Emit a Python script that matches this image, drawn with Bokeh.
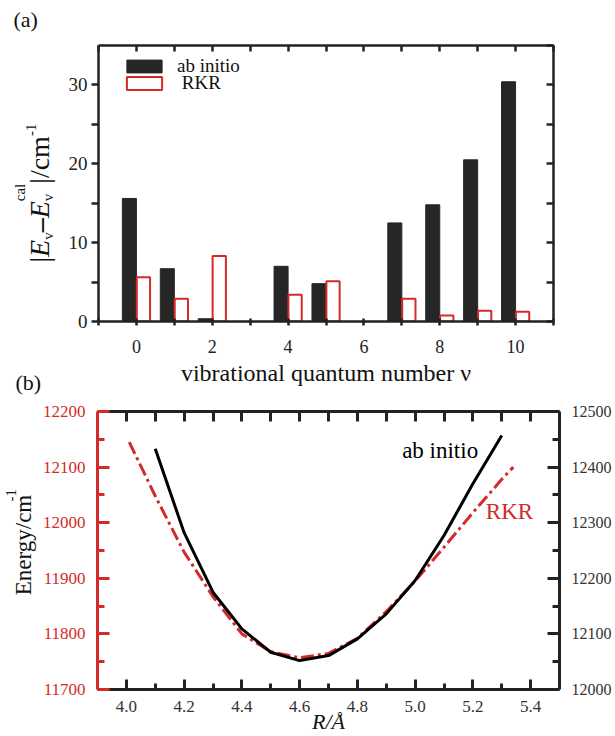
import math
from bokeh.plotting import figure
from bokeh.models import (Range1d, LinearAxis, FixedTicker, Label, Legend, LegendItem,
                          PrintfTickFormatter)
from bokeh.layouts import column, row
from bokeh.embed import file_html
from bokeh.resources import INLINE

FONT = "Liberation Serif"
RED = "#d42a2a"
DARK = "#222222"

# ---------------- data (a) ----------------
v_levels = [0, 1, 2, 4, 5, 7, 8, 9, 10]
dev_ab_initio = [15.6, 6.7, 0.35, 7.0, 4.8, 12.5, 14.8, 20.5, 30.4]
dev_rkr = [5.6, 2.9, 8.3, 3.4, 5.1, 2.9, 0.75, 1.35, 1.25]
x_ticks_a = [0, 2, 4, 6, 8, 10]
x_minor_a = [-1, 1, 3, 5, 7, 9, 11]
y_ticks_a = [0, 10, 20, 30]
y_minor_a = [5, 15, 25]

# ---------------- data (b) ----------------
R_ab_initio = [4.1, 4.2, 4.3, 4.4, 4.5, 4.6, 4.7, 4.8, 4.9, 5.0, 5.1, 5.2, 5.3]
E_ab_initio = [12433, 12282, 12175, 12109, 12067, 12052, 12061, 12091, 12136, 12196, 12277, 12370, 12457]
R_rkr = [4.01, 4.1, 4.2, 4.3, 4.4, 4.5, 4.6, 4.7, 4.8, 4.9, 5.0, 5.1, 5.2, 5.3, 5.34]
E_rkr = [12145, 12048, 11947, 11867, 11800, 11768, 11757, 11765, 11792, 11840, 11895, 11956, 12018, 12078, 12100]
x_ticks_b = [4.0, 4.2, 4.4, 4.6, 4.8, 5.0, 5.2, 5.4]
x_minor_b = [4.1, 4.3, 4.5, 4.7, 4.9, 5.1, 5.3]
x_top_b = [4.0, 4.1, 4.2, 4.3, 4.4, 4.5, 4.6, 4.7, 4.8, 4.9, 5.0, 5.1, 5.2, 5.3, 5.4]
y_left_ticks = [11700, 11800, 11900, 12000, 12100, 12200]
y_left_minor = [11750, 11850, 11950, 12050, 12150]
y_right_ticks = [12000, 12100, 12200, 12300, 12400, 12500]
y_right_minor = [12050, 12150, 12250, 12350, 12450]

HALF_PI = math.pi / 2
MID = 0.3375  # distance (em) from baseline to the middle of the text box


def style_axis(ax, color=DARK, width=2.5, size="18px"):
    ax.axis_line_color = color
    ax.axis_line_width = width
    ax.major_tick_line_color = color
    ax.minor_tick_line_color = color
    ax.major_tick_line_width = width
    ax.minor_tick_line_width = width
    ax.major_label_text_font = FONT
    ax.major_label_text_font_size = size
    ax.major_label_text_color = color


def strip(w, h, y0):
    """Text-only strip whose frame is the whole canvas; data units = page pixels."""
    s = figure(width=w, height=h, x_range=Range1d(0, w), y_range=Range1d(y0 + h, y0),
               output_backend="svg", toolbar_location=None, min_border=0,
               x_axis_location=None, y_axis_location=None, frame_align=False)
    s.outline_line_color = None
    s.background_fill_color = "white"
    s.border_fill_color = "white"
    for g in s.grid:
        g.visible = False
    return s


def htxt(p, text, x_left, y_base, size, style="normal", color="#111111"):
    p.add_layout(Label(x=x_left, y=y_base - MID * size, text=text, text_font=FONT,
                       text_font_size=f"{size}px", text_font_style=style, text_color=color,
                       text_align="left", text_baseline="middle"))


def vtxt(p, text, x_base, y_start, size, width_em, style="normal", color="#111111"):
    """Text rotated 90deg (reading upward); baseline at x_base, starting at y_start."""
    p.add_layout(Label(x=x_base - MID * size, y=y_start - width_em * size / 2, text=text,
                       angle=HALF_PI, text_font=FONT, text_font_size=f"{size}px",
                       text_font_style=style, text_color=color,
                       text_align="center", text_baseline="middle"))


# ================= panel (a) =================
H1 = 395
S1 = strip(62, H1, 0)
p1 = figure(width=553, height=H1, x_range=Range1d(-1, 11), y_range=Range1d(0, 35),
            output_backend="svg", toolbar_location=None, frame_align=False,
            min_border_left=36, min_border_right=62, min_border_top=45, min_border_bottom=74)
p1.outline_line_color = None
p1.grid.visible = False

bx = p1.xaxis[0]
bx.ticker = FixedTicker(ticks=x_ticks_a, minor_ticks=x_minor_a)
style_axis(bx, size="18px")
bx.major_tick_in = 3
bx.major_tick_out = 4
bx.minor_tick_in = 3
bx.minor_tick_out = 4
bx.major_label_standoff = 14
bx.axis_label = "vibrational quantum number \u03bd"
bx.axis_label_text_font = FONT
bx.axis_label_text_font_size = "24px"
bx.axis_label_text_font_style = "normal"
bx.axis_label_text_color = "#111111"
bx.axis_label_standoff = 4

ly = p1.yaxis[0]
ly.ticker = FixedTicker(ticks=y_ticks_a, minor_ticks=y_minor_a)
style_axis(ly, size="19px")
ly.major_tick_in = 0
ly.major_tick_out = 7
ly.minor_tick_in = 0
ly.minor_tick_out = 7
ly.major_label_standoff = 4

tx = LinearAxis(ticker=FixedTicker(ticks=[], minor_ticks=list(range(-1, 12))))
style_axis(tx)
tx.minor_tick_in = 6
tx.minor_tick_out = 0
tx.major_label_standoff = 0
p1.add_layout(tx, "above")

ry = LinearAxis(ticker=FixedTicker(ticks=[], minor_ticks=[0, 5, 10, 15, 20, 25, 30, 35]))
style_axis(ry)
ry.minor_tick_in = 7
ry.minor_tick_out = 0
ry.major_label_standoff = 0
p1.add_layout(ry, "right")

xs_ab = [v - 0.185 for v in v_levels]
xs_rkr = [v + 0.185 for v in v_levels]
r_ab = p1.vbar(x=xs_ab, top=dev_ab_initio, bottom=0, width=0.37,
               fill_color="#262626", line_color="#262626", line_width=1)
r_rk = p1.vbar(x=xs_rkr, top=dev_rkr, bottom=0, width=0.35,
               fill_color="white", line_color=RED, line_width=2)

legend_style = dict(glyph_width=44, glyph_height=16, label_standoff=11, spacing=0, padding=0,
                    margin=0, border_line_color=None, background_fill_alpha=0,
                    label_text_font=FONT, label_text_font_size="19px", label_text_color="#111111")
p1.add_layout(Legend(items=[LegendItem(label="ab initio", renderers=[r_ab])],
                     location=(24, 244), **legend_style))
p1.add_layout(Legend(items=[LegendItem(label=" RKR", renderers=[r_rk])],
                     location=(24, 227), **legend_style))

# labels in the left strip of (a)
htxt(S1, "(a)", 13, 26, 22)
htxt(S1, "(b)", 15, 389, 22)
BX = 48
vtxt(S1, "|", BX, 262, 28, 0.2)
vtxt(S1, "E", BX, 256.4, 28, 0.611, style="italic")
vtxt(S1, "v", BX + 5, 239.3, 15, 0.5)
vtxt(S1, "\u2013", BX, 231.8, 28, 0.5, style="bold")
vtxt(S1, "E", BX, 217.8, 28, 0.611, style="italic")
vtxt(S1, "v", BX + 5, 200.7, 15, 0.5)
vtxt(S1, "cal", BX - 23, 200.7, 15, 1.166)
vtxt(S1, "|/cm", BX, 183.2, 28, 1.7)
vtxt(S1, "-1", BX - 12, 135.6, 15, 0.833)

# ================= panel (b) =================
H2 = 736 - H1
S2 = strip(38, H2, H1)
p2 = figure(width=577, height=H2, x_range=Range1d(3.9, 5.5), y_range=Range1d(11700, 12200),
            output_backend="svg", toolbar_location=None, frame_align=False,
            min_border_left=59, min_border_right=56, min_border_top=16, min_border_bottom=47)
p2.extra_y_ranges = {"right": Range1d(12000, 12500)}
p2.outline_line_color = None
p2.grid.visible = False

bx2 = p2.xaxis[0]
bx2.ticker = FixedTicker(ticks=x_ticks_b, minor_ticks=x_minor_b)
bx2.formatter = PrintfTickFormatter(format="%.1f")
style_axis(bx2, color=DARK, width=3, size="17px")
bx2.major_label_text_color = "#333333"
bx2.major_tick_in = 10
bx2.major_tick_out = 0
bx2.minor_tick_in = 6
bx2.minor_tick_out = 0
bx2.major_label_standoff = 11
bx2.axis_label = "R/\u00c5"
bx2.axis_label_text_font = FONT
bx2.axis_label_text_font_size = "22px"
bx2.axis_label_text_font_style = "italic"
bx2.axis_label_text_color = "#111111"
bx2.axis_label_standoff = -6

ly2 = p2.yaxis[0]
ly2.ticker = FixedTicker(ticks=y_left_ticks, minor_ticks=y_left_minor)
style_axis(ly2, color=RED, width=3, size="17px")
ly2.major_tick_in = 12
ly2.major_tick_out = 0
ly2.minor_tick_in = 7
ly2.minor_tick_out = 0
ly2.major_label_standoff = 12

tx2 = LinearAxis(ticker=FixedTicker(ticks=[], minor_ticks=x_top_b))
style_axis(tx2, width=3)
tx2.minor_tick_in = 10
tx2.minor_tick_out = 0
tx2.major_label_standoff = 0
p2.add_layout(tx2, "above")

ry2 = LinearAxis(y_range_name="right", ticker=FixedTicker(ticks=y_right_ticks, minor_ticks=y_right_minor))
style_axis(ry2, width=3, size="16px")
ry2.major_label_text_color = "#333333"
ry2.major_tick_in = 12
ry2.major_tick_out = 0
ry2.minor_tick_in = 7
ry2.minor_tick_out = 0
ry2.major_label_standoff = 12
p2.add_layout(ry2, "right")

p2.line(R_rkr, E_rkr, line_color=RED, line_width=3, line_dash="13 4 3 4")
p2.line(R_ab_initio, E_ab_initio, y_range_name="right", line_color="#000000", line_width=3)

p2.add_layout(Label(x=4.955, y=12129, text="ab initio", text_font=FONT, text_font_size="23px",
                    text_color="#000000", text_baseline="middle"))
p2.add_layout(Label(x=5.245, y=12021, text="RKR", text_font=FONT, text_font_size="23px",
                    text_color=RED, text_baseline="middle"))

# y label of (b) in its left strip
vtxt(S2, "Energy/cm", 31, 595, 23, 4.39)
vtxt(S2, "-1", 16, 501, 15, 0.833)

layout = column(row(S1, p1), row(S2, p2))
open("out.html", "w").write(file_html(layout, INLINE))
